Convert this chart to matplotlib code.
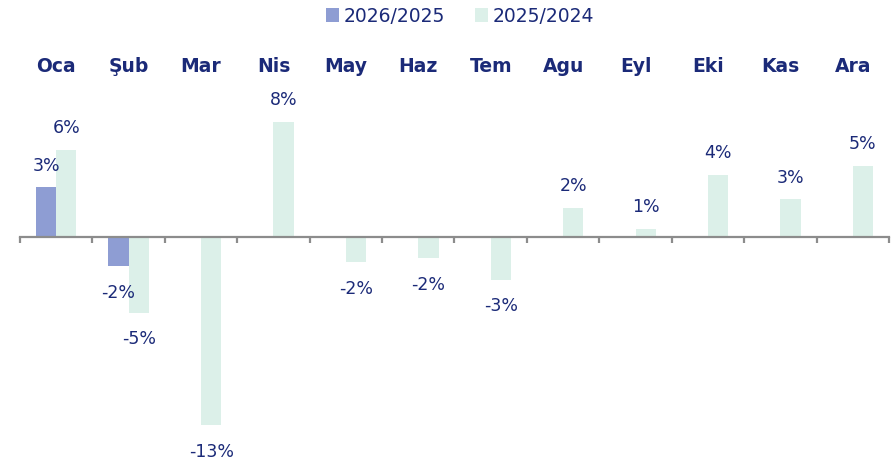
import numpy as np
import matplotlib
matplotlib.use("Agg")
import matplotlib.pyplot as plt
from matplotlib.patches import Patch
from matplotlib.transforms import blended_transform_factory

months = ["Oca", "Şub", "Mar", "Nis", "May", "Haz", "Tem", "Agu", "Eyl", "Eki", "Kas", "Ara"]
series_names = ["2026/2025", "2025/2024"]
vals_2026 = [3.46, -2.0, np.nan, np.nan, np.nan, np.nan, np.nan, np.nan, np.nan, np.nan, np.nan, np.nan]
vals_2025 = [6.05, -5.2, -13.0, 8.0, -1.73, -1.45, -2.94, 2.04, 0.59, 4.33, 2.63, 4.98]
labels_2026 = ["3%", "-2%", "", "", "", "", "", "", "", "", "", ""]
labels_2025 = ["6%", "-5%", "-13%", "8%", "-2%", "-2%", "-3%", "2%", "1%", "4%", "3%", "5%"]

c26 = "#8E9DD3"
c25 = "#DCF0E9"
navy = "#1B2A78"
gray = "#8C8C8C"

fig = plt.figure(figsize=(8.92, 4.63), dpi=100)
ax = fig.add_axes([20/892, 1-447/463, 869/892, 346.8/463])

x = np.arange(len(months))
w = 0.28
b1 = ax.bar(x - w/2, vals_2026, width=w, color=c26, zorder=2)
b2 = ax.bar(x + w/2, vals_2025, width=w, color=c25, zorder=2)

ax.set_xlim(-0.5, len(months) - 0.5)
ax.set_ylim(-14.5, 9.5)

for s in ["left", "right", "top"]:
    ax.spines[s].set_visible(False)
ax.spines["bottom"].set_position(("data", 0))
ax.spines["bottom"].set_color(gray)
ax.spines["bottom"].set_linewidth(1.6)
ax.spines["bottom"].set_zorder(3)
ax.set_yticks([])
ax.set_xticks(np.arange(-0.5, len(months) + 0.5, 1.0))
ax.tick_params(axis="x", direction="out", length=4.5, width=1.6, color=gray, labelbottom=False)

def add_labels(bars, vals, labels):
    for bar, v, lab in zip(bars, vals, labels):
        if np.isnan(v) or not lab:
            continue
        cx = bar.get_x() + bar.get_width() / 2
        if v >= 0:
            ax.annotate(lab, (cx, v), xytext=(0, 12), textcoords="offset points",
                        ha="center", va="baseline", color=navy, fontsize=12.5,
                        annotation_clip=False)
        else:
            ax.annotate(lab, (cx, v), xytext=(0, -12.5), textcoords="offset points",
                        ha="center", va="top", color=navy, fontsize=12.5,
                        annotation_clip=False)

add_labels(b1, vals_2026, labels_2026)
add_labels(b2, vals_2025, labels_2025)

trans = blended_transform_factory(ax.transData, fig.transFigure)
for xi, m in zip(x, months):
    ax.text(xi, 1 - 66/463, m, transform=trans, ha="center", va="center",
            fontsize=13.5, fontweight="bold", color=navy)

handles = [Patch(facecolor=c26, edgecolor="none"), Patch(facecolor=c25, edgecolor="none")]
leg = fig.legend(handles, series_names, loc="center", bbox_to_anchor=(0.516, 1 - 16/463),
                 ncol=2, frameon=False, fontsize=13.5, handlelength=0.7, handleheight=0.7,
                 handletextpad=0.25, columnspacing=1.6)
for t in leg.get_texts():
    t.set_color(navy)

fig.savefig("out.png", dpi=100)
